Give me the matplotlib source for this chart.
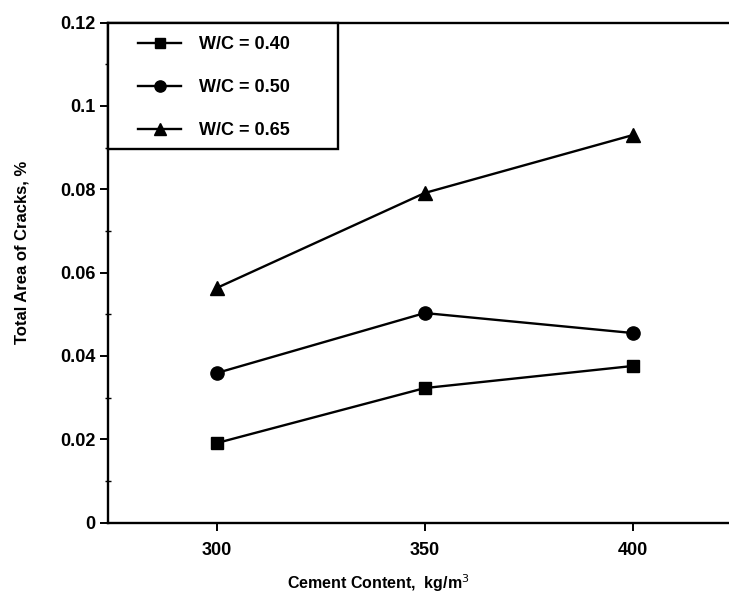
import numpy as np
import matplotlib.pyplot as plt
from matplotlib.patches import Rectangle

plt.rcParams['font.family'] = ['Liberation Sans', 'DejaVu Sans']

cement = [300, 350, 400]
wc040 = [0.0191, 0.0323, 0.0376]
wc050 = [0.0359, 0.0503, 0.0455]
wc065 = [0.0563, 0.0791, 0.0930]
labels = ['W/C = 0.40', 'W/C = 0.50', 'W/C = 0.65']
yticks = [0, 0.02, 0.04, 0.06, 0.08, 0.1, 0.12]
ytick_labels = ['0', '0.02', '0.04', '0.06', '0.08', '0.1', '0.12']
yminor = [0.01, 0.03, 0.05, 0.07, 0.09, 0.11]

W, H = 729, 598
fig = plt.figure(figsize=(W / 100, H / 100), dpi=100)
ax = fig.add_axes([108 / W, 1 - 522.7 / H, 1 - 108 / W, 500.2 / H])

ax.plot(cement, wc040, color='black', lw=1.7, marker='s', ms=9, label=labels[0])
ax.plot(cement, wc050, color='black', lw=1.7, marker='o', ms=9.5, label=labels[1])
ax.plot(cement, wc065, color='black', lw=1.7, marker='^', ms=9.5, label=labels[2])

ax.set_xlim(273.9, 423.1)
ax.set_ylim(0, 0.12)
ax.set_xticks(cement)
ax.set_xticklabels([str(c) for c in cement], fontsize=13, fontweight='bold')
ax.set_yticks(yticks)
ax.set_yticklabels(ytick_labels, fontsize=13, fontweight='bold')
ax.set_yticks(yminor, minor=True)
ax.tick_params(axis='both', which='major', direction='out', length=6, width=1.4, color='black')
ax.tick_params(axis='y', which='minor', direction='inout', length=4, width=1.0)
ax.tick_params(axis='x', pad=8)
ax.tick_params(axis='y', pad=3)

ax.spines['right'].set_visible(False)
for s in ['left', 'top', 'bottom']:
    ax.spines[s].set_linewidth(1.7)

ax.set_xlabel('Cement Content,  kg/m$^3$', fontsize=11.5, fontweight='bold')
ax.xaxis.set_label_coords((378 - 108) / (W - 108), -0.10)
ax.set_ylabel('Total Area of Cracks, %', fontsize=12, fontweight='bold')
ax.yaxis.set_label_coords(-(108 - 30) / (W - 108), (522.7 - 252) / 500.2)

# legend box (drawn separately so the padding matches)
ax.add_patch(Rectangle((0, (522.7 - 149) / 500.2), (338 - 108) / (W - 108),
                       1 - (522.7 - 149) / 500.2, transform=ax.transAxes,
                       fill=True, facecolor='white', edgecolor='black',
                       lw=1.7, zorder=4, clip_on=False))
leg = ax.legend(loc='upper left',
                bbox_to_anchor=((138 - 108) / (W - 108), 1 - (36 - 22.5) / 500.2),
                borderaxespad=0, borderpad=0, frameon=False,
                prop={'size': 13, 'weight': 'bold'}, handlelength=2.4,
                labelspacing=1.44, handletextpad=1.0, markerscale=0.85)
leg.set_zorder(5)

fig.savefig('out.png', dpi=100)
